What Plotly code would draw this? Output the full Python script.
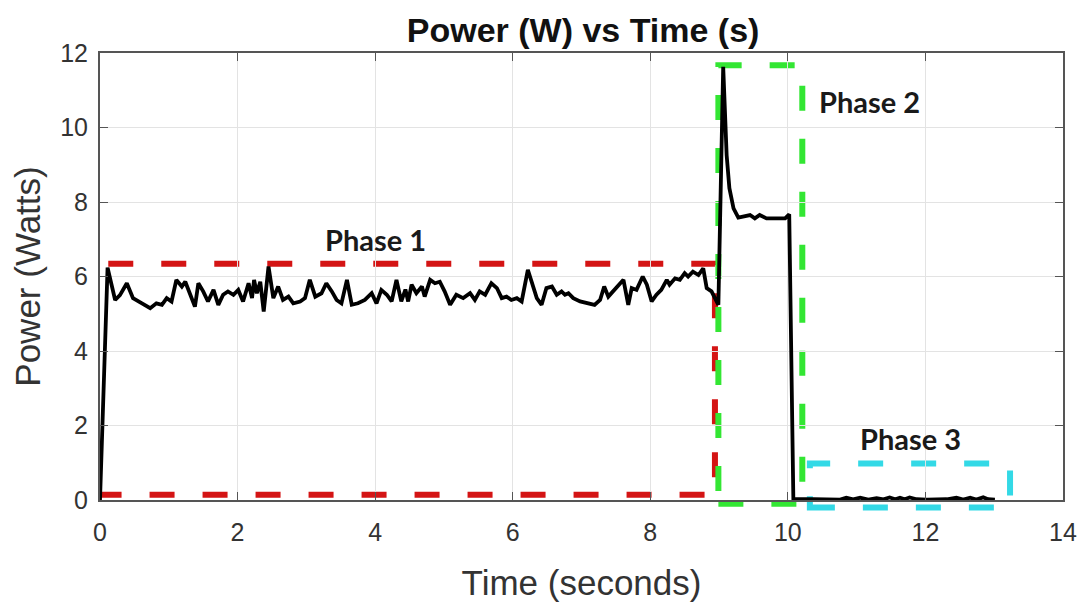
import plotly.graph_objects as go

# ---- data ----
time_s = [
    0.00, 0.11, 0.22, 0.29, 0.39, 0.48, 0.61, 0.73, 0.82, 0.90, 0.97, 1.04, 1.11, 1.19, 1.24,
    1.31, 1.38, 1.43, 1.50, 1.57, 1.65, 1.72, 1.79, 1.86, 1.94, 2.01, 2.08, 2.16, 2.21, 2.24,
    2.28, 2.33, 2.38, 2.45, 2.52, 2.59, 2.66, 2.74, 2.81, 2.91, 2.98, 3.05, 3.13, 3.22, 3.29,
    3.37, 3.44, 3.51, 3.59, 3.66, 3.75, 3.85, 3.95, 4.02, 4.09, 4.17, 4.24, 4.31, 4.38, 4.44,
    4.48, 4.53, 4.60, 4.68, 4.72, 4.80, 4.87, 4.94, 5.01, 5.09, 5.18, 5.28, 5.38, 5.45, 5.52,
    5.60, 5.69, 5.77, 5.84, 5.91, 5.98, 6.06, 6.13, 6.22, 6.27, 6.35, 6.42, 6.49, 6.57, 6.64,
    6.71, 6.76, 6.81, 6.88, 6.98, 7.07, 7.19, 7.27, 7.33, 7.39, 7.46, 7.53, 7.61, 7.68, 7.73,
    7.80, 7.89, 7.95, 8.02, 8.09, 8.16, 8.24, 8.28, 8.36, 8.43, 8.50, 8.55, 8.62, 8.70, 8.77,
    8.82, 8.89, 8.99,
    9.06, 9.11, 9.15, 9.21, 9.28, 9.37, 9.45, 9.52, 9.59, 9.69, 9.83, 9.96, 10.02, 10.08,
    10.37, 10.76, 10.85, 10.95, 11.05, 11.17, 11.29, 11.39, 11.48, 11.56, 11.63, 11.70, 11.77,
    11.87, 12.02, 12.16, 12.31, 12.45, 12.55, 12.65, 12.74, 12.84, 12.91, 13.01,
]
power_w = [
    0.00, 6.24, 5.37, 5.50, 5.82, 5.42, 5.28, 5.15, 5.28, 5.24, 5.42, 5.33, 5.91, 5.73, 5.86,
    5.51, 5.19, 5.82, 5.60, 5.33, 5.64, 5.24, 5.51, 5.60, 5.51, 5.64, 5.33, 5.82, 5.42, 5.91,
    5.55, 5.86, 5.06, 6.27, 5.42, 5.73, 5.37, 5.46, 5.28, 5.33, 5.42, 5.91, 5.46, 5.55, 5.82,
    5.60, 5.37, 5.28, 5.91, 5.24, 5.28, 5.37, 5.55, 5.28, 5.64, 5.51, 5.33, 5.91, 5.33, 5.65,
    5.33, 5.78, 5.55, 5.73, 5.46, 5.91, 5.82, 5.86, 5.60, 5.24, 5.51, 5.42, 5.55, 5.37, 5.60,
    5.51, 5.82, 5.69, 5.42, 5.46, 5.37, 5.42, 5.33, 6.18, 5.86, 5.42, 5.24, 5.69, 5.73, 5.51,
    5.60, 5.51, 5.55, 5.42, 5.33, 5.28, 5.24, 5.37, 5.73, 5.46, 5.60, 5.73, 5.91, 5.24, 5.69,
    5.64, 6.00, 5.78, 5.33, 5.51, 5.64, 5.91, 5.78, 5.95, 5.91, 6.09, 6.00, 6.13, 6.04, 6.22,
    5.69, 5.60, 5.24,
    11.63, 9.26, 8.37, 7.83, 7.58, 7.61, 7.65, 7.56, 7.65, 7.56, 7.56, 7.56, 7.67, 0.02,
    0.02, 0.01, 0.06, 0.02, 0.06, 0.01, 0.05, 0.02, 0.07, 0.02, 0.06, 0.02, 0.07,
    0.02, 0.01, 0.01, 0.02, 0.06, 0.01, 0.06, 0.01, 0.07, 0.02, 0.01,
]

x_ticks = [0, 2, 4, 6, 8, 10, 12, 14]
y_ticks = [0, 2, 4, 6, 8, 10, 12]
X_RANGE = [0, 14]
Y_RANGE = [0, 12]

# phase boxes
phase_names = ["Phase 1", "Phase 2", "Phase 3"]
phase_t0 = [-0.05, 8.99, 10.32]
phase_t1 = [8.94, 10.21, 13.23]
phase_p0 = [0.14, -0.10, -0.20]
phase_p1 = [6.34, 11.67, 0.98]
phase_colors = ["#d41414", "#33e633", "#33d9e6"]
label_t = [4.01, 11.18, 11.79]
label_p = [7.00, 10.71, 1.65]

fig = go.Figure()

span = Y_RANGE[1] - Y_RANGE[0]
for t0, t1, p0, p1, col in zip(phase_t0, phase_t1, phase_p0, phase_p1, phase_colors):
    fig.add_shape(
        type="rect", xref="x", yref="y domain",
        x0=t0, x1=t1,
        y0=(p0 - Y_RANGE[0]) / span, y1=(p1 - Y_RANGE[0]) / span,
        line=dict(color=col, width=6, dash="25px,28px"),
        fillcolor="rgba(0,0,0,0)", layer="below",
    )

fig.add_trace(go.Scatter(
    x=time_s, y=power_w, mode="lines",
    line=dict(color="black", width=3.8),
    showlegend=False, hoverinfo="skip",
))

for name, t, p in zip(phase_names, label_t, label_p):
    fig.add_annotation(
        x=t, y=p, xref="x", yref="y", text="<b>" + name + "</b>",
        showarrow=False, font=dict(family="Lato", size=29, color="#1a1a1a"),
        xanchor="center", yanchor="middle",
    )

axis_common = dict(
    showgrid=True, gridcolor="#e3e3e3", gridwidth=1,
    zeroline=False, showline=True, linecolor="#555555", linewidth=2,
    mirror="allticks", ticks="inside", ticklen=8, tickcolor="#555555", tickwidth=1,
    tickfont=dict(family="Liberation Sans, Arial", size=25, color="#333333"),
)

fig.update_xaxes(
    range=X_RANGE, tickvals=x_ticks, ticktext=[str(v) for v in x_ticks],
    title=dict(text="Time (seconds)", font=dict(family="Liberation Sans, Arial", size=35, color="#333333"), standoff=25),
    ticklabelstandoff=9,
    **axis_common,
)
fig.update_yaxes(
    range=Y_RANGE, tickvals=y_ticks, ticktext=[str(v) for v in y_ticks],
    title=dict(text="Power (Watts)", font=dict(family="Liberation Sans, Arial", size=35, color="#333333"), standoff=10),
    ticklabelstandoff=5,
    **axis_common,
)

fig.update_layout(
    width=1083, height=595,
    margin=dict(l=92, r=28, t=45, b=103, autoexpand=False),
    paper_bgcolor="white", plot_bgcolor="white",
    title=dict(text="<b>Power (W) vs Time (s)</b>", x=0.531, xanchor="center",
               y=1 - 22 / 595, yanchor="middle", yref="container",
               font=dict(family="Liberation Sans, Arial", size=34, color="#111111")),
    showlegend=False,
)

fig.write_html("out.html")
